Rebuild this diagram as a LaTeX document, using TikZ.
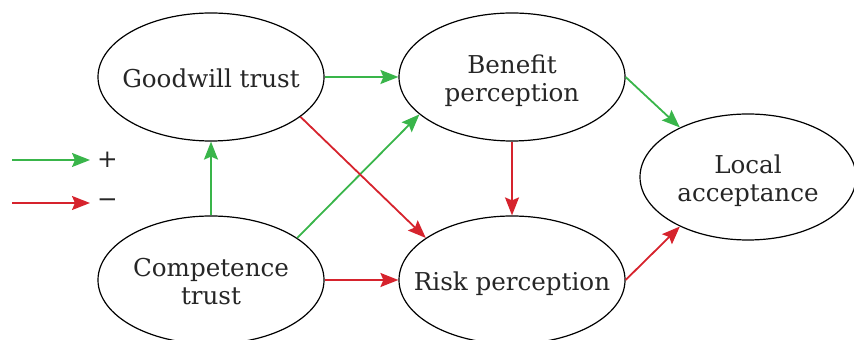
\documentclass[tikz,border=0pt]{standalone}
\usepackage{fontspec}
\setmainfont{DejaVu Serif}
\usetikzlibrary{shapes.geometric, arrows.meta}
\definecolor{posgreen}{RGB}{57,181,74}
\definecolor{negred}{RGB}{214,35,45}
% text that does not widen its ellipse
\newcommand{\factortext}[1]{\makebox[0pt]{\raisebox{-5.5pt}[0pt][0pt]{\begin{tabular}{@{}c@{}}#1\end{tabular}}}}

\begin{document}
\begin{tikzpicture}[x=0.5pt, y=-0.5pt,
  factor/.style={ellipse, draw, line width=0.6pt, inner sep=0pt,
    minimum width=113pt, minimum height=64pt,
    font=\fontsize{12.3}{14}\selectfont, text=black!85},
  posarrow/.style={posgreen, line width=0.9pt, -{Stealth[length=9pt, width=7pt, inset=1.5pt]}},
  negarrow/.style={negred, line width=0.9pt, -{Stealth[length=9pt, width=7pt, inset=1.5pt]}},
  sign/.style={font=\fontsize{12.3}{14}\selectfont, text=black!85}]
\useasboundingbox (0,0) rectangle (854,340);
% factors
\node [factor] (good) at (211,77) {\factortext{Goodwill trust}};
\node [factor] (comp) at (211,280) {\factortext{Competence\\trust}};
\node [factor] (bene) at (512,77) {\factortext{Benefit\\perception}};
\node [factor] (risk) at (512,280) {\factortext{Risk perception}};
\node [factor, minimum width=108pt, minimum height=63pt] (acc) at (748,177) {\factortext{Local\\acceptance}};
% paths
\draw [posarrow] (comp.north) -- (good.south);
\draw [posarrow] (good.east) -- (bene.west);
\draw [posarrow] (comp.26) -- (bene.202);
\draw [posarrow] (bene.east) -- (acc.144);
\draw [negarrow] (good.-24) -- (risk.154);
\draw [negarrow] (comp.east) -- (risk.west);
\draw [negarrow] (bene.south) -- (risk.north);
\draw [negarrow] (risk.east) -- (acc.216);
% legend
\coordinate (p0) at (12,160);
\coordinate (n0) at (12,203);
\node [sign, anchor=west] (plus) at (90,160) {+};
\node [sign, anchor=west] (minus) at (90,203) {−};
\draw [posarrow] (p0) -- (plus.west);
\draw [negarrow] (n0) -- (minus.west);
\end{tikzpicture}
\end{document}
